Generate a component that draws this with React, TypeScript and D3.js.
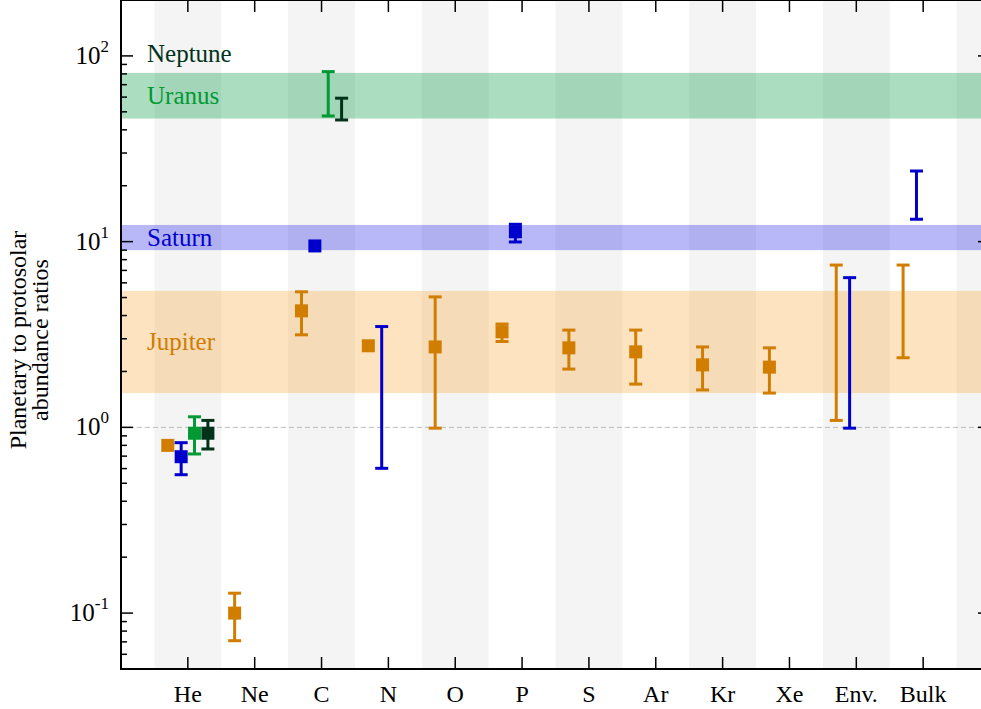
import React from "react";
import * as d3 from "d3";

// categories on the x axis
const categories = ["He", "Ne", "C", "N", "O", "P", "S", "Ar", "Kr", "Xe", "Env.", "Bulk"];

// Jupiter
const jupiterCats = ["He", "Ne", "C", "N", "O", "P", "S", "Ar", "Kr", "Xe", "Env.", "Bulk"];
const jupiterValues = [0.8, 0.1, 4.24, 2.75, 2.71, 3.27, 2.68, 2.55, 2.17, 2.11, null, null];
const jupiterLow = [null, 0.071, 3.15, null, 0.99, 2.9, 2.06, 1.71, 1.59, 1.53, 1.09, 2.37];
const jupiterHigh = [null, 0.128, 5.37, null, 5.04, 3.6, 3.34, 3.34, 2.71, 2.68, 7.48, 7.48];

// Saturn
const saturnCats = ["He", "C", "N", "P", "Env.", "Bulk"];
const saturnValues = [0.695, 9.48, null, 11.3, null, null];
const saturnLow = [0.556, null, 0.602, 9.96, 0.99, 13.2];
const saturnHigh = [0.827, null, 3.49, 12.4, 6.4, 24.0];

// Uranus
const uranusCats = ["He", "C"];
const uranusValues = [0.93, null];
const uranusLow = [0.719, 47.5];
const uranusHigh = [1.14, 82.3];

// Neptune
const neptuneCats = ["He", "C"];
const neptuneValues = [0.93, null];
const neptuneLow = [0.765, 45.2];
const neptuneHigh = [1.09, 59.2];

// horizontal bands (planet enrichment ranges)
const jupiterBand = [1.53, 5.43];
const saturnBand = [9.0, 12.3];
const iceGiantBand = [46, 81];

const yTickValues = [0.1, 1, 10, 100];
const yTickExponents = ["-1", "0", "1", "2"];

const W = 981;
const H = 709;
const margin = { left: 121, top: 0, right: 990, bottom: 669 };
const serif = "'Liberation Serif', 'DejaVu Serif', serif";

const x = d3.scaleLinear().domain([0, 13]).range([margin.left, margin.right]);
const y = d3.scaleLog().domain([0.05, 200]).range([margin.bottom, margin.top]);

type Series = {
  name: string;
  color: string;
  offset: number;
  cats: string[];
  values: (number | null)[];
  low: (number | null)[];
  high: (number | null)[];
};

const series: Series[] = [
  { name: "Jupiter", color: "#d07d00", offset: -0.3, cats: jupiterCats, values: jupiterValues, low: jupiterLow, high: jupiterHigh },
  { name: "Saturn", color: "#0000cc", offset: -0.1, cats: saturnCats, values: saturnValues, low: saturnLow, high: saturnHigh },
  { name: "Uranus", color: "#009933", offset: 0.1, cats: uranusCats, values: uranusValues, low: uranusLow, high: uranusHigh },
  { name: "Neptune", color: "#00331a", offset: 0.3, cats: neptuneCats, values: neptuneValues, low: neptuneLow, high: neptuneHigh },
];

const catX = (c: string) => categories.indexOf(c) + 1;

const App: React.FC = () => {
  const minorTicks: number[] = [];
  for (let e = -2; e <= 2; e++) {
    for (let m = 2; m <= 9; m++) {
      const v = m * Math.pow(10, e);
      if (v >= 0.05 && v <= 200) minorTicks.push(v);
    }
  }
  const bands = d3.range(1, 14, 2);
  const cap = 6.5;
  const sq = 13;

  return (
    <div style={{ position: "absolute", left: 0, top: 0 }}>
      <svg width={W} height={H} style={{ display: "block", background: "#fff" }} fontFamily={serif}>
        <defs>
          <clipPath id="plot">
            <rect x={margin.left} y={margin.top} width={margin.right - margin.left} height={margin.bottom - margin.top} />
          </clipPath>
        </defs>
        <g clipPath="url(#plot)">
          {bands.map((b) => (
            <rect key={b} x={x(b - 0.5)} y={margin.top} width={x(b + 0.5) - x(b - 0.5)} height={margin.bottom - margin.top} fill="#f4f4f4" />
          ))}
          <rect x={margin.left} y={y(jupiterBand[1])} width={margin.right - margin.left} height={y(jupiterBand[0]) - y(jupiterBand[1])} fill="#f7a12c" opacity={0.3} />
          <rect x={margin.left} y={y(saturnBand[1])} width={margin.right - margin.left} height={y(saturnBand[0]) - y(saturnBand[1])} fill="#0000e6" opacity={0.28} />
          <rect x={margin.left} y={y(iceGiantBand[1])} width={margin.right - margin.left} height={y(iceGiantBand[0]) - y(iceGiantBand[1])} fill="#009944" opacity={0.33} />
          <line x1={margin.left} x2={margin.right} y1={y(1)} y2={y(1)} stroke="#bbb" strokeWidth={1} strokeDasharray="5,3" />
        </g>

        <text x={147} y={y(iceGiantBand[1]) - 19} dominantBaseline="central" fontSize={25} fill="#00331a">Neptune</text>
        <text x={147} y={y(Math.sqrt(iceGiantBand[0] * iceGiantBand[1]))} dominantBaseline="central" fontSize={25} fill="#009933">Uranus</text>
        <text x={147} y={y(Math.sqrt(saturnBand[0] * saturnBand[1]))} dominantBaseline="central" fontSize={25} fill="#0000cc">Saturn</text>
        <text x={147} y={y(Math.sqrt(jupiterBand[0] * jupiterBand[1]))} dominantBaseline="central" fontSize={25} fill="#d07d00">Jupiter</text>

        {series.map((s) => (
          <g key={s.name}>
            {s.cats.map((c, i) => {
              const cx = x(catX(c) + s.offset);
              const v = s.values[i];
              const lo = s.low[i];
              const hi = s.high[i];
              return (
                <g key={c}>
                  {lo != null && hi != null && (
                    <g stroke={s.color} strokeWidth={3}>
                      <line x1={cx} x2={cx} y1={y(lo)} y2={y(hi)} />
                      <line x1={cx - cap} x2={cx + cap} y1={y(lo)} y2={y(lo)} />
                      <line x1={cx - cap} x2={cx + cap} y1={y(hi)} y2={y(hi)} />
                    </g>
                  )}
                  {v != null && <rect x={cx - sq / 2} y={y(v) - sq / 2} width={sq} height={sq} fill={s.color} />}
                </g>
              );
            })}
          </g>
        ))}

        {/* frame */}
        <rect x={margin.left} y={margin.top} width={margin.right - margin.left} height={margin.bottom - margin.top} fill="none" stroke="#000" strokeWidth={2} />

        {/* x ticks bottom and top */}
        {categories.map((c, i) => (
          <g key={c}>
            <line x1={x(i + 1)} x2={x(i + 1)} y1={margin.bottom} y2={margin.bottom - 12} stroke="#000" strokeWidth={1.5} />
            <line x1={x(i + 1)} x2={x(i + 1)} y1={margin.top} y2={margin.top + 12} stroke="#000" strokeWidth={1.5} />
            <text x={x(i + 1)} y={702} textAnchor="middle" fontSize={24}>{c}</text>
          </g>
        ))}

        {/* y ticks */}
        {yTickValues.map((v, i) => (
          <g key={v}>
            <line x1={margin.left} x2={margin.left + 12} y1={y(v)} y2={y(v)} stroke="#000" strokeWidth={1.5} />
            <line x1={margin.right} x2={margin.right - 12} y1={y(v)} y2={y(v)} stroke="#000" strokeWidth={1.5} />
            <text x={109} y={y(v) + 8} textAnchor="end" fontSize={25}>
              <tspan>10</tspan>
              <tspan dy={-12} fontSize={17}>{yTickExponents[i]}</tspan>
            </text>
          </g>
        ))}
        {minorTicks.map((v) => (
          <g key={v}>
            <line x1={margin.left} x2={margin.left + 6} y1={y(v)} y2={y(v)} stroke="#000" strokeWidth={1.5} />
            <line x1={margin.right} x2={margin.right - 6} y1={y(v)} y2={y(v)} stroke="#000" strokeWidth={1.5} />
          </g>
        ))}

        {/* y title */}
        <text transform="translate(26,340) rotate(-90)" textAnchor="middle" fontSize={24}>Planetary to protosolar</text>
        <text transform="translate(48,340) rotate(-90)" textAnchor="middle" fontSize={24}>abundance ratios</text>
      </svg>
    </div>
  );
};

export default App;
